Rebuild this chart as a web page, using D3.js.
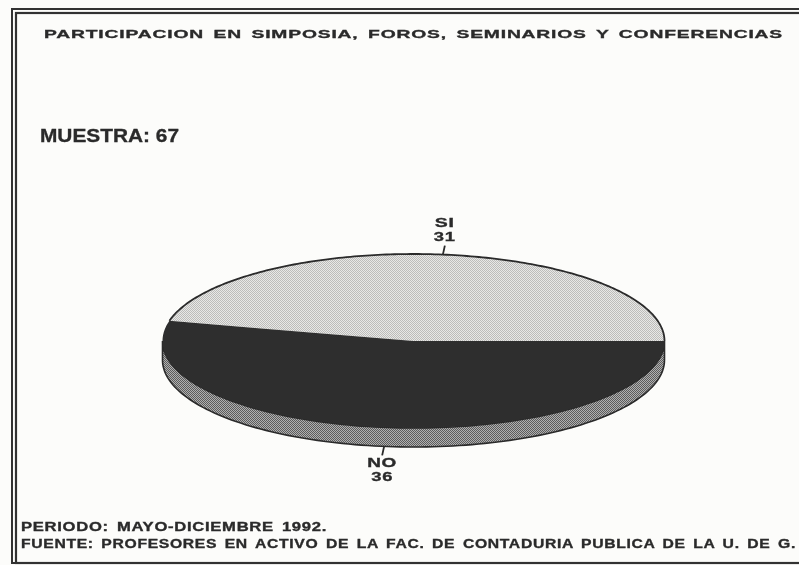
<!DOCTYPE html>
<html><head><meta charset="utf-8">
<script src="https://cdn.jsdelivr.net/npm/d3@7"></script>
<style>html,body{margin:0;padding:0;background:#fcfcfa}svg{display:block}text{font-family:"Liberation Sans",Arial,sans-serif;font-weight:bold;fill:#2a2a2a;stroke:#2a2a2a;stroke-width:.32px;letter-spacing:.5px;word-spacing:2px}</style>
</head><body><div id="chart"></div>
<script>
const categories = ["SI", "NO"];
const values = [31, 36];
const titleText = "PARTICIPACION EN SIMPOSIA, FOROS, SEMINARIOS Y CONFERENCIAS";
const sampleText = "MUESTRA: 67";
const periodText = "PERIODO: MAYO-DICIEMBRE 1992.";
const sourceText = "FUENTE: PROFESORES EN ACTIVO DE LA FAC. DE CONTADURIA PUBLICA DE LA U. DE G.";

const W = 799, H = 565, cx = 413.5, cy = 341, rx = 251, ry = 87, depth = 19;
const svg = d3.select("#chart").append("svg").attr("width", W).attr("height", H);
const defs = svg.append("defs");
function dither(id, bg, fg, s) {
  const p = defs.append("pattern").attr("id", id).attr("width", s).attr("height", s).attr("patternUnits", "userSpaceOnUse");
  p.append("rect").attr("width", s).attr("height", s).attr("fill", bg);
  p.append("rect").attr("width", s / 2).attr("height", s / 2).attr("fill", fg);
  p.append("rect").attr("x", s / 2).attr("y", s / 2).attr("width", s / 2).attr("height", s / 2).attr("fill", fg);
}
dither("light", "#e8e8e6", "#bcbcba", 2);
dither("mid", "#b0b0b0", "#5c5c5c", 2);
const soft = defs.append("filter").attr("id", "soft");
soft.append("feGaussianBlur").attr("stdDeviation", 0.45);

// frame
const frame = svg.append("g").attr("fill", "none").attr("filter", "url(#soft)");
frame.append("rect").attr("x", 12).attr("y", 9).attr("width", 800).attr("height", 554).attr("stroke", "#333").attr("stroke-width", 2);
frame.append("rect").attr("x", 16).attr("y", 13).attr("width", 800).attr("height", 550).attr("stroke", "#333").attr("stroke-width", 2.2);

// pie: SI occupies the top, ending at the right-hand edge
const startAngle = Math.PI / 2 - 2 * Math.PI * values[0] / d3.sum(values);
const pie = d3.pie().value(d => d).sort(null).startAngle(startAngle).endAngle(startAngle + 2 * Math.PI);
const arcs = pie(values);
const chart = svg.append("g").attr("filter", "url(#soft)");

// wall: lower half of the rim
const wall = d3.area()
  .x(a => cx + rx * Math.cos(a))
  .y0(a => cy + ry * Math.sin(a))
  .y1(a => cy + depth + ry * Math.sin(a));
chart.append("path").datum(d3.range(0, Math.PI + 0.001, Math.PI / 120))
  .attr("d", wall).attr("fill", "url(#mid)").attr("stroke", "#2a2a2a").attr("stroke-width", 1.6);

// top face: each slice projected onto the ellipse (d3 pie angles run clockwise from 12 o'clock)
const rim = d3.line().x(a => cx + rx * Math.sin(a)).y(a => cy - ry * Math.cos(a));
const slicePath = d => {
  const n = 180, step = (d.endAngle - d.startAngle) / n;
  return `M${cx},${cy}L` + rim(d3.range(n + 1).map(k => d.startAngle + k * step)).slice(1) + "Z";
};
const fills = ["url(#light)", "#2e2e2e"];
chart.append("g").selectAll("path").data(arcs).join("path")
  .attr("d", slicePath).attr("fill", (d, i) => fills[i]);
chart.append("g").selectAll("path").data(arcs.slice(0, 1)).join("path")
  .attr("d", d => rim(d3.range(181).map(k => d.startAngle + k * (d.endAngle - d.startAngle) / 180)))
  .attr("fill", "none").attr("stroke", "#2a2a2a").attr("stroke-width", 1.8);

// leader lines and labels
const labelWidths = [[20, 22], [30, 22]];
arcs.forEach((d, i) => {
  const a = (d.startAngle + d.endAngle) / 2 - Math.PI / 2;
  const dir = Math.sin(a) > 0 ? 1 : -1;
  const x = cx + rx * Math.cos(a), y = cy + ry * Math.sin(a) + (dir > 0 ? depth : 0);
  chart.append("line").attr("x1", x).attr("y1", y).attr("x2", x + dir * -2).attr("y2", y + dir * 9)
    .attr("stroke", "#2a2a2a").attr("stroke-width", 1.8);
  const lines = [categories[i], String(values[i])];
  const baseFirst = dir > 0 ? y + 21 : y - 28;
  lines.forEach((t, k) => {
    const w = labelWidths[i][k];
    chart.append("text").attr("x", x + dir * -2 - w / 2).attr("y", baseFirst + k * 14).attr("font-size", 12)
      .attr("textLength", w).attr("lengthAdjust", "spacingAndGlyphs").text(t);
  });
});

// texts
const texts = svg.append("g").attr("filter", "url(#soft)");
function put(t, x, y, size, len) {
  return texts.append("text").attr("x", x).attr("y", y).attr("font-size", size)
    .attr("textLength", len).attr("lengthAdjust", "spacingAndGlyphs").text(t);
}
put(titleText, 44, 37.5, 11.5, 739);
put(sampleText, 40, 142, 19, 139).style("letter-spacing", "0px").style("word-spacing", "0px");
put(periodText, 21, 530.5, 12, 306);
put(sourceText, 21, 547.5, 12, 775);
</script></body></html>
